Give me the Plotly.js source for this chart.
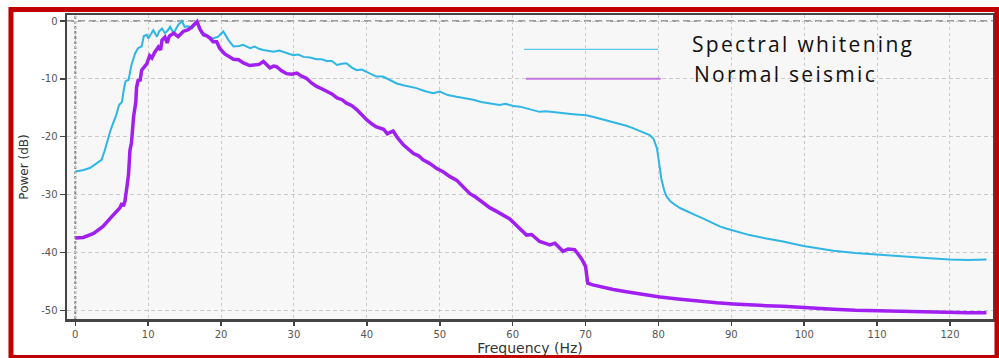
<!DOCTYPE html>
<html>
<head>
<meta charset="utf-8">
<script src="https://cdn.plot.ly/plotly-3.0.1.min.js"></script>
<style>
  html, body { margin: 0; padding: 0; background: #ffffff; }
  #chart { width: 999px; height: 358px; }
</style>
</head>
<body>
<div id="chart"></div>
<script>
// ---- Data ----
const whiteningFreq = [0,1,2,3,3.6,4.0,4.3,4.8,5.2,5.6,6.0,6.4,6.7,6.9,7.3,7.7,8.2,8.6,9.1,9.4,9.8,10.0,10.4,10.7,11.2,11.5,11.9,12.3,12.7,13.0,13.5,14.1,14.6,15.0,15.5,16.0,16.7,17.3,17.8,18.2,18.9,19.6,20.3,21.0,21.7,22.5,23.0,23.6,24.0,24.6,25.2,25.8,26.5,27.2,28.0,28.5,29.2,29.9,30.6,31.3,32.2,33.1,33.8,34.5,35.2,35.9,36.6,37.2,37.9,38.6,39.3,40.0,40.7,41.3,42.2,43.2,44.1,45.0,45.9,46.8,47.9,49.1,50.0,51.1,52.3,53.4,54.6,55.7,56.9,58.2,59.0,60.1,61.0,61.9,62.8,63.7,64.6,65.6,66.5,67.4,68.3,69.2,70.1,71.1,72.0,72.9,73.8,74.7,75.6,76.5,77.2,77.9,78.8,79.3,79.8,80.1,80.4,80.8,81.1,81.6,82.3,83.1,83.9,85.0,86.1,87.2,88.4,89.4,90.3,91.4,92.5,94.8,97.1,99.9,102.0,104.0,107.0,110.0,112.2,114.5,117.2,120.0,122.5,125.0];
const whiteningPower = [-26.0,-25.8,-25.4,-24.6,-24.0,-22.5,-21.1,-19.0,-17.6,-16.3,-14.5,-14.0,-11.5,-10.4,-10.2,-7.6,-5.6,-4.7,-4.4,-2.6,-2.4,-3.0,-2.2,-1.6,-2.7,-1.8,-1.3,-2.1,-1.6,-1.0,-2.1,-0.7,0.0,-1.0,-0.9,-1.3,-0.3,-2.1,-2.2,-2.7,-3.0,-2.7,-1.8,-3.3,-4.4,-4.3,-4.1,-4.5,-4.7,-4.4,-4.8,-5.0,-5.1,-5.3,-5.1,-5.3,-5.6,-5.9,-5.8,-6.2,-6.3,-6.6,-6.6,-6.9,-6.9,-7.6,-7.4,-7.3,-8.0,-8.5,-8.4,-8.8,-9.2,-9.6,-9.6,-10.2,-10.8,-11.1,-11.3,-11.6,-12.1,-12.5,-12.2,-12.8,-13.1,-13.3,-13.6,-14.0,-14.2,-14.5,-14.3,-14.7,-14.8,-15.1,-15.3,-15.7,-15.6,-15.7,-15.8,-15.9,-16.1,-16.2,-16.3,-16.6,-16.9,-17.1,-17.4,-17.8,-18.1,-18.5,-18.9,-19.3,-19.7,-20.3,-22.0,-24.6,-27.3,-29.3,-30.3,-31.1,-31.8,-32.4,-32.9,-33.5,-34.1,-34.8,-35.5,-35.9,-36.2,-36.6,-37.0,-37.6,-38.1,-38.9,-39.3,-39.7,-40.1,-40.4,-40.6,-40.8,-41.0,-41.2,-41.3,-41.2];

const normalFreq = [0,1.1,2.5,3.8,5.0,5.7,6.1,6.4,6.6,6.8,6.9,7.1,7.3,7.5,7.7,8.0,8.3,8.4,8.6,8.9,9.1,9.3,9.8,10.2,10.5,10.9,11.4,11.7,11.9,12.3,12.6,12.9,13.5,14.1,14.8,15.5,16.0,16.7,17.1,17.6,18.1,18.5,18.9,19.4,19.8,20.5,21.1,21.7,22.4,23.0,23.9,24.6,25.2,25.8,26.3,26.7,27.2,27.6,28.3,29.0,29.7,30.4,31.0,31.7,32.4,33.1,33.8,34.5,35.2,35.9,36.6,37.2,37.9,38.6,39.3,40.0,40.7,41.3,42.3,42.8,43.6,44.1,45.0,45.7,46.4,47.1,47.7,48.6,49.6,50.5,51.4,52.3,53.2,54.1,55.0,55.9,56.9,57.8,58.7,59.6,60.5,61.3,61.9,62.6,63.2,63.7,64.4,65.1,65.8,66.4,66.9,67.6,68.5,69.0,69.5,70.0,70.3,71.0,72.0,73.8,75.6,78.0,80.2,83.0,85.7,88.0,90.3,92.5,94.8,97.1,100.5,104.0,107.0,110.0,112.7,115.4,117.7,120.0,122.5,125.0];
const normalPower = [-37.5,-37.4,-36.7,-35.5,-33.8,-32.9,-32.3,-31.5,-32.0,-31.2,-29.8,-28.5,-26.5,-22.3,-21.1,-16.5,-14.0,-11.5,-10.3,-10.2,-8.5,-8.2,-7.4,-6.0,-6.4,-5.4,-4.5,-5.0,-3.3,-2.8,-3.8,-2.6,-2.1,-2.7,-1.8,-1.5,-1.0,-0.1,-1.4,-2.4,-2.6,-3.0,-3.6,-3.6,-4.7,-5.7,-6.2,-6.6,-6.7,-7.2,-7.7,-7.6,-7.5,-7.0,-7.6,-8.1,-7.8,-7.9,-8.6,-9.1,-9.2,-9.0,-9.5,-9.9,-10.7,-11.3,-11.7,-12.2,-12.6,-13.3,-13.6,-14.2,-14.6,-15.3,-16.3,-17.1,-17.8,-18.3,-18.7,-19.5,-19.0,-20.0,-21.4,-22.2,-22.9,-23.3,-24.0,-24.6,-25.5,-26.1,-26.9,-27.5,-28.6,-29.8,-30.5,-31.4,-32.3,-32.9,-33.5,-34.2,-35.3,-36.2,-37.0,-36.9,-37.6,-38.1,-38.4,-38.7,-38.4,-39.2,-39.8,-39.4,-39.5,-40.3,-41.2,-42.4,-45.3,-45.6,-45.9,-46.4,-46.8,-47.3,-47.7,-48.1,-48.5,-48.7,-48.9,-49.1,-49.2,-49.3,-49.6,-49.8,-50.0,-50.1,-50.2,-50.2,-50.3,-50.3,-50.4,-50.4];

const seriesNames = ["Spectral whitening", "Normal seismic"];
const xTickVals = [0,10,20,30,40,50,60,70,80,90,100,110,120];
const xTickText = ["0","10","20","30","40","50","60","70","80","90","100","110","120"];
const yTickVals = [0,-10,-20,-30,-40,-50];
const yTickText = ["0","-10","-20","-30","-40","-50"];
const xTitle = "Frequency (Hz)";
const yTitle = "Power (dB)";

// ---- Styles ----
const cyan = "#2fb6e4";
const purple = "#a11ff0";

const traces = [
  { x: whiteningFreq, y: whiteningPower, name: seriesNames[0], type: "scatter", mode: "lines",
    line: { color: cyan, width: 2 }, showlegend: false },
  { x: normalFreq, y: normalPower, name: seriesNames[1], type: "scatter", mode: "lines",
    line: { color: purple, width: 3.5 }, showlegend: false }
];

const legendStyle = "letter-spacing:2.3px";
const gridColor = "#c9c9c9";
const layout = {
  width: 999, height: 358,
  margin: { l: 67, r: 6, t: 15, b: 39 },
  paper_bgcolor: "#ffffff",
  plot_bgcolor: "#f7f7f7",
  showlegend: false,
  font: { family: "DejaVu Sans, Arial, sans-serif", color: "#444" },
  xaxis: {
    range: [-1.14, 125.9],
    tickvals: xTickVals, ticktext: xTickText,
    ticks: "outside", ticklen: 4, tickwidth: 1.5, tickcolor: "#444",
    tickfont: { size: 10, color: "#555" },
    showgrid: true, gridcolor: gridColor, griddash: "3px,3px", gridwidth: 1,
    zeroline: false,
    showline: true, linecolor: "#454545", linewidth: 2.5, mirror: true,
    title: { text: xTitle, font: { size: 14, color: "#333" }, standoff: 5 },
    automargin: false
  },
  yaxis: {
    range: [-51.5, 1.04],
    tickvals: yTickVals, ticktext: yTickText,
    ticks: "outside", ticklen: 5, tickwidth: 1.5, tickcolor: "#444",
    tickfont: { size: 10, color: "#555" },
    showgrid: true, gridcolor: gridColor, griddash: "4px,3px", gridwidth: 1,
    zeroline: false,
    showline: true, linecolor: "#454545", linewidth: 2.5, mirror: true,
    title: { text: yTitle, font: { size: 12, color: "#333" }, standoff: 10 },
    automargin: false
  },
  shapes: [
    // dashed reference lines at 0
    { type: "line", xref: "paper", yref: "y", x0: 0, x1: 1, y0: 0, y1: 0,
      line: { color: "#808080", width: 1.5, dash: "7px,4px" }, layer: "below" },
    { type: "line", xref: "x", yref: "paper", x0: 0, x1: 0, y0: 0, y1: 1,
      line: { color: "#888888", width: 2, dash: "3px,2px" }, layer: "below" },
    // legend sample lines
    { type: "line", xref: "paper", yref: "paper", x0: 0.4935, x1: 0.6382, y0: 0.8872, y1: 0.8872,
      line: { color: "#5cc8ea", width: 1.2 } },
    { type: "line", xref: "paper", yref: "paper", x0: 0.4957, x1: 0.6411, y0: 0.7905, y1: 0.7905,
      line: { color: "#c277dc", width: 2 } },
    // red outer frame
    { type: "rect", xref: "paper", yref: "paper", x0: -0.0605, x1: 1.0043, y0: -0.1266, y1: 1.018,
      line: { color: "#c00000", width: 5 }, fillcolor: "rgba(0,0,0,0)" }
  ],
  annotations: [
    { xref: "paper", yref: "paper", x: 0.6728, y: 0.9030, xanchor: "left", yanchor: "middle",
      text: '<span style="' + legendStyle + '">' + seriesNames[0] + '</span>', showarrow: false,
      font: { family: "Open Sans, DejaVu Sans, sans-serif", size: 21, color: "#111" } },
    { xref: "paper", yref: "paper", x: 0.675, y: 0.8075, xanchor: "left", yanchor: "middle",
      text: '<span style="' + legendStyle + '">' + seriesNames[1] + '</span>', showarrow: false,
      font: { family: "Open Sans, DejaVu Sans, sans-serif", size: 21, color: "#111" } }
  ]
};

Plotly.newPlot("chart", traces, layout, { staticPlot: true, displayModeBar: false });
</script>
</body>
</html>
